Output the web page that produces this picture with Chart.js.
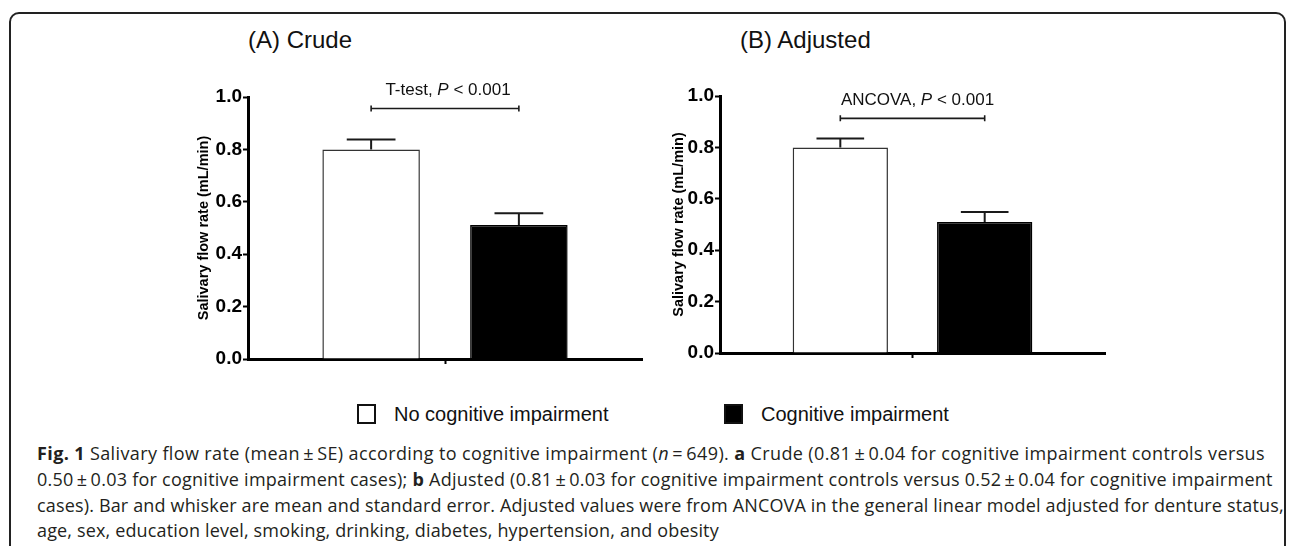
<!DOCTYPE html>
<html>
<head>
<meta charset="utf-8">
<script src="https://cdn.jsdelivr.net/npm/chart.js@4.4.0/dist/chart.umd.min.js"></script>
<style>
  html, body { margin: 0; padding: 0; background: #fff; }
  body { width: 1290px; height: 546px; position: relative; overflow: hidden; font-family: "Liberation Sans", Arial, sans-serif; }
  .frame { position: absolute; left: 9px; top: 12px; width: 1277px; height: 600px; border: 2px solid #222; border-radius: 10px; box-sizing: border-box; }
  .panel-title { position: absolute; font-size: 24px; line-height: 26px; color: #111; white-space: nowrap; }
  .wrap { position: absolute; width: 510px; height: 320px; }
  .legend-item { position: absolute; top: 404px; height: 20px; display: flex; align-items: center; font-size: 20px; color: #111; white-space: nowrap; }
  .legend-item .sw { width: 19px; height: 20px; box-sizing: border-box; border: 2px solid #111; margin-right: 18px; }
  .caption { position: absolute; left: 37px; top: 441px; font-family: "Open Sans", sans-serif; font-size: 18px; line-height: 25.8px; color: #231f20; white-space: nowrap; }
</style>
</head>
<body>
<div class="frame"></div>
<div class="panel-title" id="titleA" style="left:248px; top:27px;"></div>
<div class="panel-title" id="titleB" style="left:740px; top:27px;"></div>
<div class="wrap" style="left:150px; top:60px;"><canvas id="crude" width="510" height="320"></canvas></div>
<div class="wrap" style="left:620px; top:60px;"><canvas id="adjusted" width="510" height="320"></canvas></div>
<div id="legend"></div>
<div class="caption">
  <div style="letter-spacing:0.38px"><b>Fig. 1</b> Salivary flow rate (mean&thinsp;±&thinsp;SE) according to cognitive impairment (<i>n</i>&thinsp;=&thinsp;649). <b>a</b> Crude (0.81&thinsp;±&thinsp;0.04 for cognitive impairment controls versus</div>
  <div style="letter-spacing:0.25px">0.50&thinsp;±&thinsp;0.03 for cognitive impairment cases); <b>b</b> Adjusted (0.81&thinsp;±&thinsp;0.03 for cognitive impairment controls versus 0.52&thinsp;±&thinsp;0.04 for cognitive impairment</div>
  <div style="letter-spacing:0.16px">cases). Bar and whisker are mean and standard error. Adjusted values were from ANCOVA in the general linear model adjusted for denture status,</div>
  <div style="letter-spacing:0.15px">age, sex, education level, smoking, drinking, diabetes, hypertension, and obesity</div>
</div>

<script>
// data
const panelTitles = ['(A) Crude', '(B) Adjusted'];
const groups = ['No cognitive impairment', 'Cognitive impairment'];
const groupFill = ['#ffffff', '#000000'];
const crudeMeans = [0.80, 0.511];
const crudeErrors = [0.038, 0.045];
const adjustedMeans = [0.80, 0.51];
const adjustedErrors = [0.035, 0.039];
const testNames = ['T-test', 'ANCOVA'];
const pValueText = '< 0.001';
const bracketLevels = [0.956, 0.913];
const yTickStep = 0.2;

Chart.defaults.font.family = '"Liberation Sans", Arial, sans-serif';
Chart.defaults.color = '#000';

document.getElementById('titleA').textContent = panelTitles[0];
document.getElementById('titleB').textContent = panelTitles[1];

// legend (shared by both panels)
const legend = document.getElementById('legend');
const legendLeft = [357, 724];
groups.forEach((g, i) => {
    const item = document.createElement('div');
    item.className = 'legend-item';
    item.style.left = legendLeft[i] + 'px';
    const sw = document.createElement('span');
    sw.className = 'sw';
    sw.style.background = groupFill[i];
    item.appendChild(sw);
    item.appendChild(document.createTextNode(g));
    legend.appendChild(item);
});

// error whiskers + significance bracket
const extrasPlugin = {
    id: 'extras',
    afterDatasetsDraw(chart, args, opts) {
        const ctx = chart.ctx;
        const y = chart.scales.y;
        ctx.save();
        ctx.strokeStyle = '#1a1a1a';
        ctx.lineWidth = 2;
        chart.data.datasets.forEach((ds, i) => {
            const bar = chart.getDatasetMeta(i).data[0];
            const top = y.getPixelForValue(ds.data[0] + opts.errors[i]);
            const half = bar.width / 4;
            ctx.beginPath();
            ctx.moveTo(bar.x, bar.y);
            ctx.lineTo(bar.x, top);
            ctx.moveTo(bar.x - half, top);
            ctx.lineTo(bar.x + half, top);
            ctx.stroke();
        });
        // bracket
        const x1 = chart.getDatasetMeta(0).data[0].x;
        const x2 = chart.getDatasetMeta(1).data[0].x;
        const by = y.getPixelForValue(opts.bracket);
        ctx.lineWidth = 1.6;
        ctx.beginPath();
        ctx.moveTo(x1, by); ctx.lineTo(x2, by);
        ctx.moveTo(x1, by - 3); ctx.lineTo(x1, by + 3);
        ctx.moveTo(x2, by - 3); ctx.lineTo(x2, by + 3);
        ctx.stroke();
        // label: "<test>, P < 0.001" with italic P
        const parts = [
            [opts.test + ', ', '17px "Liberation Sans", Arial'],
            ['P', 'italic 17px "Liberation Sans", Arial'],
            [' ' + pValueText, '17px "Liberation Sans", Arial']
        ];
        let total = 0;
        parts.forEach(p => { ctx.font = p[1]; total += ctx.measureText(p[0]).width; });
        let tx = (x1 + x2) / 2 + opts.textShift - total / 2;
        ctx.fillStyle = '#111';
        ctx.textBaseline = 'middle';
        ctx.textAlign = 'left';
        parts.forEach(p => {
            ctx.font = p[1];
            ctx.fillText(p[0], tx, by - 18);
            tx += ctx.measureText(p[0]).width;
        });
        ctx.restore();
    }
};

function makeChart(id, means, errors, test, bracket, box) {
    return new Chart(document.getElementById(id), {
        type: 'bar',
        data: {
            labels: [''],
            datasets: groups.map((g, i) => ({
                label: g,
                data: [means[i]],
                backgroundColor: groupFill[i],
                borderColor: i === 0 ? '#333' : '#000',
                borderWidth: 1.5,
                borderSkipped: 'start'
            }))
        },
        options: {
            responsive: false,
            animation: false,
            layout: { padding: { top: box.top, right: box.right, bottom: 0, left: 0 } },
            datasets: { bar: { categoryPercentage: 0.75, barPercentage: 0.66 } },
            plugins: {
                legend: { display: false },
                tooltip: { enabled: false },
                extras: { errors: errors, test: test, bracket: bracket, textShift: box.textShift }
            },
            scales: {
                x: {
                    afterFit: s => { s.height = box.xHeight; },
                    grid: { display: true, drawOnChartArea: false, offset: false, tickLength: 5, tickWidth: 2, tickColor: '#000' },
                    border: { display: true, width: 3, color: '#000' },
                    ticks: { display: true, padding: 0 }
                },
                y: {
                    min: 0,
                    max: 1,
                    afterFit: s => { s.width = box.yWidth; },
                    grid: { display: true, drawOnChartArea: false, tickLength: 5, tickWidth: 2, tickColor: '#000' },
                    border: { display: true, width: 3, color: '#000' },
                    ticks: {
                        stepSize: yTickStep,
                        padding: 1,
                        font: { size: 19, weight: 'bold' },
                        callback: v => Number(v).toFixed(1)
                    },
                    title: {
                        display: true,
                        text: 'Salivary flow rate (mL/min)',
                        font: { size: 14.5, weight: 'bold' },
                        padding: { top: box.titlePad, bottom: 0 }
                    }
                }
            }
        },
        plugins: [extrasPlugin]
    });
}

makeChart('crude', crudeMeans, crudeErrors, testNames[0], bracketLevels[0],
    { top: 37, right: 18, xHeight: 21, yWidth: 98, titlePad: 45, textShift: 3 });
makeChart('adjusted', adjustedMeans, adjustedErrors, testNames[1], bracketLevels[1],
    { top: 36, right: 25, xHeight: 27, yWidth: 100, titlePad: 50, textShift: 5 });
</script>
</body>
</html>
